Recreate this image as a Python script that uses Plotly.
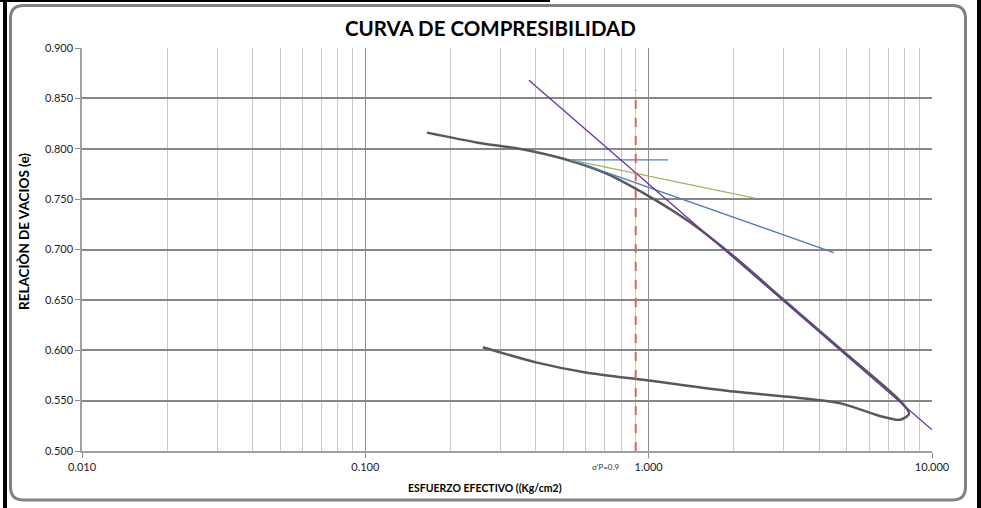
import plotly.graph_objects as go

# ---------------- data ----------------
curve_x = [0.165, 0.25, 0.35, 0.5, 0.7, 1.0, 1.4, 2.0, 3.0, 4.9, 7.7, 8.3,
           7.7, 6.5, 4.8, 3.3, 2.0, 1.0, 0.6, 0.4, 0.26]
curve_e = [0.816, 0.806, 0.800, 0.790, 0.776, 0.753, 0.727, 0.693, 0.650, 0.598, 0.550, 0.537,
           0.531, 0.535, 0.547, 0.553, 0.559, 0.570, 0.578, 0.588, 0.603]

cc_x = [0.378, 10.0]         # purple line (virgin compression)
cc_e = [0.868, 0.521]
hz_x = [0.53, 1.17]          # horizontal line at max curvature
hz_e = [0.789, 0.789]
bis_x = [0.53, 2.37]         # bisector (green)
bis_e = [0.789, 0.751]
tan_x = [0.53, 4.5]          # tangent (blue)
tan_e = [0.789, 0.697]
sp_x = [0.9, 0.9]            # preconsolidation stress
sp_e = [0.500, 0.858]

x_tickvals = [0.01, 0.1, 1, 10]
x_ticktext = ["0.010", "0.100", "1.000", "10.000"]

title = "CURVA DE COMPRESIBILIDAD"
x_title = "ESFUERZO EFECTIVO ((Kg/cm2)"
y_title = "RELACIÒN DE VACIOS (e)"
sp_label = "σ'P=0.9"

W, H = 981, 508
ML, MR, MT, MB = 82, 49, 48, 57
PW, PH = W - ML - MR, H - MT - MB
FONT = "Lato"


def xp(px):
    return (px - ML) / PW


def yp(py):
    return (H - MB - py) / PH


fig = go.Figure()
fig.add_trace(go.Scatter(x=curve_x, y=curve_e, mode="lines",
                         line=dict(color="#595959", width=2.5, shape="spline", smoothing=0.8)))
fig.add_trace(go.Scatter(x=tan_x, y=tan_e, mode="lines", line=dict(color="#4A7EBB", width=1.3)))
fig.add_trace(go.Scatter(x=bis_x, y=bis_e, mode="lines", line=dict(color="#9BBB59", width=1.3)))
fig.add_trace(go.Scatter(x=hz_x, y=hz_e, mode="lines", line=dict(color="#4A7EBB", width=1.3)))
fig.add_trace(go.Scatter(x=cc_x, y=cc_e, mode="lines", line=dict(color="#7030A0", width=1.3)))
fig.add_trace(go.Scatter(x=sp_x, y=sp_e, mode="lines",
                         line=dict(color="#E06060", width=2, dash="dash")))

# rounded frame
L, R, T, B, r = 10.5, 965.5, 5.5, 500.0, 13
path = (f"M {xp(L + r)},{yp(T)} L {xp(R - r)},{yp(T)} Q {xp(R)},{yp(T)} {xp(R)},{yp(T + r)} "
        f"L {xp(R)},{yp(B - r)} Q {xp(R)},{yp(B)} {xp(R - r)},{yp(B)} "
        f"L {xp(L + r)},{yp(B)} Q {xp(L)},{yp(B)} {xp(L)},{yp(B - r)} "
        f"L {xp(L)},{yp(T + r)} Q {xp(L)},{yp(T)} {xp(L + r)},{yp(T)} Z")
shapes = [
    dict(type="path", xref="paper", yref="paper", path=path,
         line=dict(color="#828282", width=3), layer="below"),
    dict(type="rect", xref="paper", yref="paper", x0=xp(0), x1=xp(550), y0=yp(0), y1=yp(2),
         fillcolor="black", line=dict(width=0)),
    dict(type="rect", xref="paper", yref="paper", x0=xp(3), x1=xp(7), y0=yp(0), y1=yp(H),
         fillcolor="black", line=dict(width=0)),
    dict(type="rect", xref="paper", yref="paper", x0=xp(977), x1=xp(W), y0=yp(0), y1=yp(H),
         fillcolor="black", line=dict(width=0)),
]


def ann(text, px, py, size, color="black", angle=0):
    return dict(text=text, x=xp(px), y=yp(py), xref="paper", yref="paper",
                xanchor="center", yanchor="middle", showarrow=False, textangle=angle,
                font=dict(family=FONT, size=size, color=color))


annotations = [
    ann(f"<b>{title}</b>", 490, 28, 20.5),
    ann(f"<b>{x_title}</b>", 485, 488, 10.5),
    ann(f"<b>{y_title}</b>", 24, 232, 13.5, angle=-90),
    ann(sp_label, 605, 467, 8, color="#333333"),
]

fig.update_layout(
    width=W, height=H,
    margin=dict(l=ML, r=MR, t=MT, b=MB),
    paper_bgcolor="white", plot_bgcolor="white",
    showlegend=False,
    shapes=shapes, annotations=annotations,
    font=dict(family=FONT, size=11, color="#222222"),
)
fig.update_xaxes(type="log", range=[-2, 1], tickvals=x_tickvals, ticktext=x_ticktext,
                 showgrid=True, gridcolor="#8c8c8c", gridwidth=1,
                 minor=dict(dtick="D1", showgrid=True, gridcolor="#c8c8c8", gridwidth=1, ticks=""),
                 showline=True, linecolor="#a0a0a0", linewidth=1.5,
                 ticks="outside", ticklen=5, tickcolor="#8c8c8c",
                 zeroline=False, tickfont=dict(size=11))
fig.update_yaxes(range=[0.5, 0.9], dtick=0.05, tick0=0.5, tickformat=".3f",
                 showgrid=True, gridcolor="#878787", gridwidth=2,
                 showline=True, linecolor="#a0a0a0", linewidth=1.5,
                 ticks="outside", ticklen=5, tickcolor="#8c8c8c",
                 zeroline=False, tickfont=dict(size=11))

fig.write_html("out.html", config={"displayModeBar": False},
               post_script="document.body.style.margin='0';")
